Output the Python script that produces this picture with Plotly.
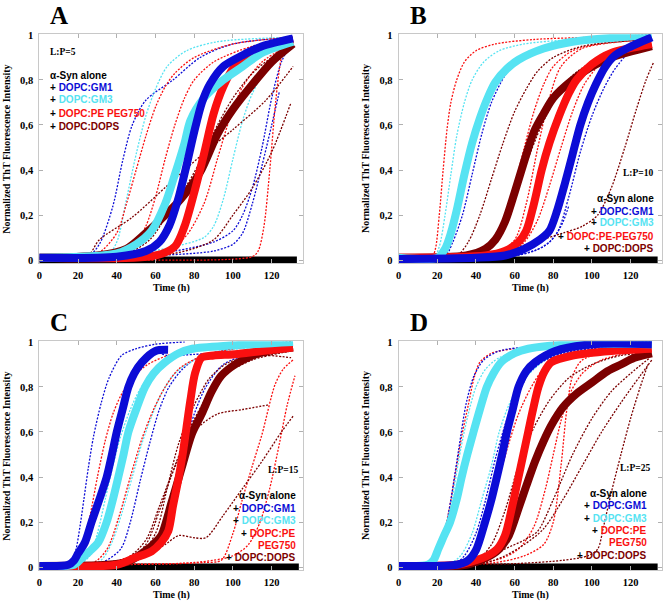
import plotly.graph_objects as go

# ---------------- colours ----------------
C_ALONE = "#000000"
C_GM1 = "#0c0cd6"
C_GM3 = "#56e3f2"
C_PEG = "#fa1010"
C_DOPS = "#7c0000"

# ================= Panel A (L:P=5) =================
A_ALONE_T = [0, 133]
A_ALONE_Y = [0, 0]
A_GM1_T = [0, 40, 55, 62, 67, 72, 76, 80, 84, 88, 95, 105, 115, 131]
A_GM1_Y = [0.01, 0.015, 0.04, 0.08, 0.15, 0.28, 0.42, 0.57, 0.7, 0.78, 0.86, 0.91, 0.95, 0.985]
A_GM3_T = [0, 40, 50, 58, 65, 70, 75, 78, 85, 95, 105, 115, 131]
A_GM3_Y = [0.01, 0.03, 0.07, 0.13, 0.25, 0.38, 0.52, 0.62, 0.72, 0.8, 0.86, 0.92, 0.97]
A_PEG_T = [0, 60, 70, 75, 80, 85, 90, 95, 100, 110, 131]
A_PEG_Y = [0.01, 0.02, 0.06, 0.15, 0.3, 0.47, 0.65, 0.77, 0.85, 0.92, 0.98]
A_DOPS_T = [0, 30, 45, 55, 65, 73, 83, 92, 100, 110, 120, 131]
A_DOPS_Y = [0.01, 0.02, 0.05, 0.12, 0.2, 0.27, 0.39, 0.56, 0.67, 0.78, 0.88, 0.96]

A_GM1_R1_T = [0, 25, 31, 38, 43, 48, 55, 69, 83, 100, 131]
A_GM1_R1_Y = [0.01, 0.015, 0.07, 0.24, 0.44, 0.6, 0.71, 0.8, 0.9, 0.96, 0.99]
A_GM1_R2_T = [0, 50, 70, 90, 100, 105, 110, 115, 120, 125, 130]
A_GM1_R2_Y = [0.01, 0.02, 0.04, 0.08, 0.13, 0.2, 0.32, 0.5, 0.72, 0.88, 0.96]
A_GM1_R3_T = [0, 60, 90, 100, 105, 110, 115, 120, 124]
A_GM1_R3_Y = [0.01, 0.02, 0.04, 0.07, 0.12, 0.25, 0.42, 0.6, 0.75]
A_GM3_R1_T = [0, 35, 40, 45, 50, 55, 60, 66, 76, 92, 130]
A_GM3_R1_Y = [0.01, 0.02, 0.08, 0.27, 0.47, 0.64, 0.76, 0.86, 0.93, 0.97, 0.99]
A_GM3_R2_T = [0, 50, 70, 85, 90, 95, 100, 105, 110, 118, 130]
A_GM3_R2_Y = [0.01, 0.03, 0.06, 0.1, 0.15, 0.27, 0.45, 0.62, 0.74, 0.86, 0.95]
A_PEG_R1_T = [0, 30, 40, 45, 50, 55, 60, 65, 70, 80, 100, 130]
A_PEG_R1_Y = [0.01, 0.03, 0.12, 0.25, 0.4, 0.55, 0.68, 0.77, 0.83, 0.9, 0.96, 0.99]
A_PEG_R2_T = [0, 40, 50, 55, 60, 65, 70, 75, 80, 90, 110, 130]
A_PEG_R2_Y = [0.01, 0.03, 0.08, 0.15, 0.28, 0.45, 0.6, 0.72, 0.8, 0.88, 0.95, 0.98]
A_PEG_R3_T = [0, 60, 75, 85, 92, 98, 105, 115, 130]
A_PEG_R3_Y = [0.01, 0.03, 0.1, 0.25, 0.45, 0.62, 0.77, 0.88, 0.96]
A_PEG_R4_T = [0, 110, 113, 116, 119, 122, 125, 128, 131]
A_PEG_R4_Y = [0.01, 0.015, 0.04, 0.15, 0.4, 0.7, 0.9, 0.97, 0.99]
A_DOPS_R1_T = [0, 25, 31, 48, 66, 83, 100, 117, 131]
A_DOPS_R1_Y = [0.01, 0.02, 0.09, 0.19, 0.33, 0.46, 0.58, 0.71, 0.86]
A_DOPS_R2_T = [0, 45, 57, 66, 76, 85, 92, 100, 110, 120, 130]
A_DOPS_R2_Y = [0.01, 0.03, 0.09, 0.2, 0.33, 0.47, 0.6, 0.72, 0.83, 0.9, 0.95]
A_DOPS_R3_T = [0, 70, 90, 100, 110, 120, 130]
A_DOPS_R3_Y = [0.01, 0.03, 0.09, 0.2, 0.32, 0.48, 0.7]

# ================= Panel B (L:P=10) =================
B_ALONE_T = [0, 134]
B_ALONE_Y = [0, 0]
B_GM3_T = [0, 20, 24, 27, 30, 34, 38, 42, 46, 50, 56, 62, 75, 90, 131]
B_GM3_Y = [0.01, 0.01, 0.05, 0.12, 0.22, 0.38, 0.52, 0.63, 0.72, 0.79, 0.85, 0.89, 0.94, 0.97, 1.0]
B_GM1_T = [0, 40, 55, 65, 73, 78, 82, 86, 90, 94, 98, 102, 107, 112, 118, 131]
B_GM1_Y = [0.005, 0.01, 0.02, 0.05, 0.09, 0.13, 0.22, 0.34, 0.47, 0.6, 0.7, 0.78, 0.86, 0.91, 0.94, 0.99]
B_PEG_T = [0, 45, 55, 62, 66, 70, 74, 78, 83, 88, 92, 100, 110, 131]
B_PEG_Y = [0.01, 0.02, 0.04, 0.08, 0.13, 0.25, 0.4, 0.52, 0.64, 0.74, 0.8, 0.87, 0.92, 0.96]
B_DOPS_T = [0, 35, 45, 50, 55, 60, 65, 70, 75, 80, 90, 100, 110, 131]
B_DOPS_Y = [0.01, 0.02, 0.05, 0.09, 0.17, 0.3, 0.44, 0.57, 0.65, 0.72, 0.8, 0.86, 0.9, 0.95]

B_PEG_R1_T = [0, 17, 19, 21, 23, 25, 27, 30, 34, 40, 50, 70, 100, 130]
B_PEG_R1_Y = [0.01, 0.01, 0.05, 0.2, 0.4, 0.58, 0.7, 0.8, 0.88, 0.93, 0.96, 0.98, 0.99, 1.0]
B_PEG_R2_T = [0, 40, 50, 55, 60, 65, 70, 75, 80, 90, 110, 130]
B_PEG_R2_Y = [0.01, 0.03, 0.08, 0.18, 0.33, 0.5, 0.66, 0.78, 0.86, 0.93, 0.97, 0.98]
B_PEG_R3_T = [0, 55, 65, 72, 78, 84, 90, 96, 105, 115, 130]
B_PEG_R3_Y = [0.01, 0.03, 0.08, 0.18, 0.33, 0.5, 0.66, 0.78, 0.88, 0.94, 0.97]
B_PEG_R4_T = [0, 50, 60, 66, 72, 78, 84, 95, 130]
B_PEG_R4_Y = [0.01, 0.03, 0.09, 0.25, 0.5, 0.72, 0.86, 0.94, 0.98]
B_GM3_R1_T = [0, 18, 21, 24, 27, 30, 34, 38, 44, 52, 65, 90, 130]
B_GM3_R1_Y = [0.01, 0.01, 0.06, 0.2, 0.38, 0.55, 0.7, 0.8, 0.88, 0.93, 0.96, 0.98, 1.0]
B_GM1_R1_T = [0, 24, 28, 33, 38, 43, 48, 55, 62, 75, 100, 130]
B_GM1_R1_Y = [0.01, 0.02, 0.08, 0.2, 0.38, 0.56, 0.7, 0.82, 0.89, 0.94, 0.98, 1.0]
B_GM1_R2_T = [0, 60, 70, 78, 84, 88]
B_GM1_R2_Y = [0.01, 0.02, 0.04, 0.08, 0.15, 0.24]
B_GM1_R3_T = [0, 60, 75, 82, 88, 94, 100, 106, 112, 120, 130]
B_GM1_R3_Y = [0.01, 0.02, 0.06, 0.12, 0.28, 0.48, 0.64, 0.76, 0.85, 0.93, 0.98]
B_DOPS_R1_T = [0, 30, 36, 42, 48, 54, 60, 66, 72, 80, 95, 130]
B_DOPS_R1_Y = [0.01, 0.02, 0.08, 0.2, 0.36, 0.52, 0.66, 0.76, 0.84, 0.9, 0.95, 0.98]
B_DOPS_R2_T = [0, 50, 70, 85, 95, 103, 110, 117, 123, 128, 132]
B_DOPS_R2_Y = [0.01, 0.03, 0.08, 0.12, 0.15, 0.2, 0.32, 0.5, 0.67, 0.8, 0.88]
B_DOPS_R3_T = [0, 40, 50, 58, 66, 74, 82, 90, 100, 115, 130]
B_DOPS_R3_Y = [0.01, 0.03, 0.1, 0.25, 0.43, 0.6, 0.73, 0.82, 0.88, 0.93, 0.96]

# ================= Panel C (L:P=15) =================
C_ALONE_T = [0, 134]
C_ALONE_Y = [0, 0]
C_GM1_T = [0, 15, 18, 20, 23.6, 27, 31, 34.8, 37.5, 40, 43, 46, 49, 53, 60, 66.5]
C_GM1_Y = [0.005, 0.01, 0.03, 0.06, 0.11, 0.2, 0.3, 0.4, 0.5, 0.6, 0.7, 0.8, 0.86, 0.91, 0.96, 0.965]
C_GM3_T = [0, 18, 22, 26, 30.5, 34.8, 38, 40.8, 43.5, 46, 50, 54.6, 59, 65, 72, 79, 100, 131]
C_GM3_Y = [0.005, 0.01, 0.04, 0.07, 0.11, 0.2, 0.3, 0.4, 0.5, 0.6, 0.7, 0.8, 0.86, 0.91, 0.95, 0.97, 0.985, 1.0]
C_PEG_T = [0, 40, 49, 58, 63, 66.6, 69, 71.8, 74, 76, 78, 80.4, 83.8, 90, 101, 115, 131]
C_PEG_Y = [0.005, 0.01, 0.04, 0.07, 0.11, 0.16, 0.27, 0.39, 0.5, 0.62, 0.74, 0.86, 0.93, 0.94, 0.945, 0.96, 0.975]
C_DOPS_T = [0, 35, 46, 54.6, 60, 63, 68.4, 73.5, 78.7, 83.8, 89, 94, 101, 110, 118, 131]
C_DOPS_Y = [0.005, 0.01, 0.025, 0.07, 0.11, 0.14, 0.29, 0.44, 0.59, 0.68, 0.78, 0.85, 0.9, 0.94, 0.96, 0.975]

C_GM1_R1_T = [0, 15, 17, 19, 21, 23, 25.3, 28, 32, 36, 42.5, 50, 60, 75]
C_GM1_R1_Y = [0.005, 0.01, 0.03, 0.08, 0.18, 0.3, 0.44, 0.58, 0.73, 0.84, 0.94, 0.97, 0.99, 1.0]
C_GM1_R2_T = [60, 66, 80, 100, 115, 131]
C_GM1_R2_Y = [0.96, 0.94, 0.945, 0.955, 0.96, 0.97]
C_GM1_R3_T = [0, 32, 42, 47, 52, 57, 62, 67, 74, 82, 100, 130]
C_GM1_R3_Y = [0.005, 0.02, 0.08, 0.2, 0.38, 0.55, 0.7, 0.8, 0.88, 0.93, 0.97, 0.99]
C_GM1_R4_T = [0, 40, 55, 62, 68, 74, 80, 86, 95, 110, 130]
C_GM1_R4_Y = [0.005, 0.02, 0.06, 0.15, 0.3, 0.5, 0.68, 0.8, 0.9, 0.95, 0.97]
C_GM3_R1_T = [0, 20, 26, 30, 34, 38, 42, 47, 52, 58, 66, 76, 100, 130]
C_GM3_R1_Y = [0.005, 0.01, 0.05, 0.15, 0.3, 0.45, 0.58, 0.7, 0.79, 0.86, 0.91, 0.95, 0.98, 1.0]
C_GM3_R2_T = [0, 28, 33, 38, 43, 48, 53, 58, 63, 70, 80, 95, 130]
C_GM3_R2_Y = [0.005, 0.01, 0.04, 0.12, 0.25, 0.4, 0.55, 0.67, 0.77, 0.86, 0.92, 0.96, 0.99]
C_PEG_R1_T = [0, 18, 22, 26, 30, 34, 38, 42, 48, 56, 70, 100, 130]
C_PEG_R1_Y = [0.01, 0.02, 0.08, 0.22, 0.4, 0.56, 0.68, 0.76, 0.84, 0.9, 0.95, 0.98, 1.0]
C_PEG_R2_T = [0, 28, 35, 41, 47, 53, 59, 65, 72, 82, 100, 130]
C_PEG_R2_Y = [0.01, 0.02, 0.08, 0.22, 0.4, 0.57, 0.7, 0.8, 0.88, 0.93, 0.97, 0.99]
C_PEG_R3_T = [0, 70, 85, 94, 100, 104.5, 110, 115, 121.7, 126, 131]
C_PEG_R3_Y = [0.01, 0.015, 0.02, 0.03, 0.15, 0.29, 0.45, 0.59, 0.81, 0.88, 0.92]
C_PEG_R4_T = [0, 80, 100, 108, 114, 119, 124, 128, 132]
C_PEG_R4_Y = [0.01, 0.02, 0.05, 0.1, 0.2, 0.35, 0.55, 0.72, 0.85]
C_DOPS_R1_T = [0, 50, 65, 72, 80, 86, 95, 105, 115, 125, 131]
C_DOPS_R1_Y = [0.01, 0.03, 0.1, 0.14, 0.13, 0.13, 0.23, 0.35, 0.47, 0.6, 0.67]
C_DOPS_R2_T = [0, 45, 55, 62, 68, 74, 82, 92, 105, 118]
C_DOPS_R2_Y = [0.01, 0.03, 0.1, 0.25, 0.4, 0.52, 0.62, 0.68, 0.7, 0.72]
C_DOPS_R3_T = [0, 50, 60, 66, 72, 80, 88, 98, 115, 130]
C_DOPS_R3_Y = [0.01, 0.04, 0.15, 0.35, 0.55, 0.72, 0.84, 0.91, 0.94, 0.93]
C_DOPS_R4_T = [0, 45, 55, 62, 70, 78, 86, 95, 110, 130]
C_DOPS_R4_Y = [0.01, 0.04, 0.12, 0.27, 0.45, 0.62, 0.75, 0.85, 0.92, 0.96]

# ================= Panel D (L:P=25) =================
D_ALONE_T = [0, 134]
D_ALONE_Y = [0, 0]
D_GM3_T = [0, 15, 18, 20.5, 23, 26.6, 30, 32.6, 35.5, 38.7, 42, 45.6, 49, 53, 60, 67, 90, 131]
D_GM3_Y = [0.005, 0.01, 0.03, 0.08, 0.13, 0.2, 0.3, 0.4, 0.5, 0.6, 0.7, 0.8, 0.86, 0.91, 0.95, 0.97, 0.99, 0.99]
D_GM1_T = [0, 30, 36, 40, 44.7, 48, 50.8, 53.5, 56, 59, 62, 66, 70.6, 81, 100, 131]
D_GM1_Y = [0.005, 0.01, 0.03, 0.075, 0.2, 0.3, 0.4, 0.5, 0.6, 0.7, 0.8, 0.87, 0.91, 0.96, 0.99, 0.99]
D_PEG_T = [0, 30, 40, 46, 51, 55, 58.5, 62, 64.5, 67, 69.5, 72.3, 75.5, 79, 90, 110, 131]
D_PEG_Y = [0.005, 0.01, 0.03, 0.05, 0.08, 0.14, 0.26, 0.4, 0.5, 0.6, 0.7, 0.8, 0.87, 0.91, 0.94, 0.96, 0.97]
D_DOPS_T = [0, 35, 45, 52, 57, 62, 66, 70.6, 75, 79, 85, 92, 100, 108, 115, 122, 131]
D_DOPS_Y = [0.005, 0.01, 0.04, 0.08, 0.14, 0.26, 0.36, 0.47, 0.56, 0.63, 0.71, 0.77, 0.82, 0.87, 0.9, 0.93, 0.95]

D_PEG_R1_T = [0, 15, 18, 22, 26, 29, 32.6, 36, 39, 42, 48, 60, 90, 130]
D_PEG_R1_Y = [0.01, 0.015, 0.03, 0.1, 0.25, 0.4, 0.58, 0.72, 0.84, 0.91, 0.95, 0.97, 0.99, 1.0]
D_PEG_R2_T = [0, 32, 40, 46, 52, 57, 62, 68, 74, 82, 100, 130]
D_PEG_R2_Y = [0.01, 0.02, 0.08, 0.22, 0.4, 0.55, 0.68, 0.79, 0.87, 0.92, 0.96, 0.98]
D_PEG_R3_T = [0, 50, 62, 70, 76, 80, 84, 88, 95, 105, 130]
D_PEG_R3_Y = [0.01, 0.03, 0.08, 0.18, 0.35, 0.5, 0.65, 0.76, 0.86, 0.92, 0.97]
D_PEG_R4_T = [0, 50, 65, 75, 80, 84, 87, 90, 95, 110, 130]
D_PEG_R4_Y = [0.01, 0.02, 0.05, 0.1, 0.2, 0.45, 0.7, 0.85, 0.92, 0.96, 0.98]
D_GM3_R1_T = [0, 16, 20, 24, 28, 32, 36, 40, 45, 52, 65, 90, 130]
D_GM3_R1_Y = [0.005, 0.01, 0.05, 0.15, 0.32, 0.52, 0.68, 0.8, 0.88, 0.93, 0.96, 0.98, 0.99]
D_GM3_R2_T = [0, 25, 32, 38, 43, 48, 52, 57, 62, 70, 80, 100, 130]
D_GM3_R2_Y = [0.005, 0.01, 0.05, 0.15, 0.3, 0.45, 0.6, 0.72, 0.8, 0.88, 0.94, 0.98, 1.0]
D_GM1_R1_T = [0, 15, 19, 23, 27, 31, 35, 39, 44, 52, 70, 100, 130]
D_GM1_R1_Y = [0.005, 0.01, 0.04, 0.12, 0.3, 0.52, 0.73, 0.85, 0.92, 0.96, 0.98, 0.99, 1.0]
D_GM1_R2_T = [0, 28, 34, 40, 45, 50, 55, 60, 66, 74, 85, 110, 130]
D_GM1_R2_Y = [0.005, 0.01, 0.05, 0.15, 0.3, 0.48, 0.63, 0.75, 0.85, 0.91, 0.95, 0.98, 0.99]
D_GM1_R3_T = [0, 30, 38, 44, 50, 56, 62, 68, 75, 90, 130]
D_GM1_R3_Y = [0.005, 0.01, 0.06, 0.2, 0.42, 0.62, 0.77, 0.87, 0.92, 0.96, 0.99]
D_DOPS_R1_T = [0, 60, 85, 98, 103, 106, 110, 115, 120, 125, 129]
D_DOPS_R1_Y = [0.01, 0.015, 0.03, 0.05, 0.08, 0.18, 0.33, 0.5, 0.66, 0.8, 0.9]
D_DOPS_R2_T = [0, 45, 55, 65, 75, 85, 95, 105, 115, 125, 131]
D_DOPS_R2_Y = [0.01, 0.02, 0.05, 0.1, 0.17, 0.3, 0.45, 0.6, 0.73, 0.85, 0.92]
D_DOPS_R3_T = [0, 45, 55, 65, 72, 80, 90, 100, 110, 120, 130]
D_DOPS_R3_Y = [0.01, 0.03, 0.08, 0.12, 0.16, 0.3, 0.5, 0.66, 0.78, 0.86, 0.93]
D_DOPS_R4_T = [0, 40, 48, 55, 62, 70, 78, 88, 100, 115, 130]
D_DOPS_R4_Y = [0.01, 0.03, 0.1, 0.25, 0.45, 0.62, 0.74, 0.84, 0.9, 0.94, 0.95]

X_TICKS = [0, 20, 40, 60, 80, 100, 120]
Y_TICKS = [0, 0.2, 0.4, 0.6, 0.8, 1]
Y_TICK_TEXT = ["0", "0,2", "0,4", "0,6", "0,8", "1"]
PANEL_LETTERS = ["A", "B", "C", "D"]
PANEL_RATIOS = ["L:P=5", "L:P=10", "L:P=15", "L:P=25"]

# ---------------- assemble ----------------
PANELS = [
    {
        "thick": [(C_DOPS, A_DOPS_T, A_DOPS_Y), (C_PEG, A_PEG_T, A_PEG_Y),
                  (C_GM3, A_GM3_T, A_GM3_Y), (C_GM1, A_GM1_T, A_GM1_Y)],
        "thin": [(C_GM1, A_GM1_R1_T, A_GM1_R1_Y), (C_GM1, A_GM1_R2_T, A_GM1_R2_Y),
                 (C_GM1, A_GM1_R3_T, A_GM1_R3_Y), (C_GM3, A_GM3_R1_T, A_GM3_R1_Y),
                 (C_GM3, A_GM3_R2_T, A_GM3_R2_Y), (C_PEG, A_PEG_R1_T, A_PEG_R1_Y),
                 (C_PEG, A_PEG_R2_T, A_PEG_R2_Y), (C_PEG, A_PEG_R3_T, A_PEG_R3_Y),
                 (C_PEG, A_PEG_R4_T, A_PEG_R4_Y), (C_DOPS, A_DOPS_R1_T, A_DOPS_R1_Y),
                 (C_DOPS, A_DOPS_R2_T, A_DOPS_R2_Y), (C_DOPS, A_DOPS_R3_T, A_DOPS_R3_Y)],
        "alone": (A_ALONE_T, A_ALONE_Y),
    },
    {
        "thick": [(C_DOPS, B_DOPS_T, B_DOPS_Y), (C_PEG, B_PEG_T, B_PEG_Y),
                  (C_GM3, B_GM3_T, B_GM3_Y), (C_GM1, B_GM1_T, B_GM1_Y)],
        "thin": [(C_PEG, B_PEG_R1_T, B_PEG_R1_Y), (C_PEG, B_PEG_R2_T, B_PEG_R2_Y),
                 (C_PEG, B_PEG_R3_T, B_PEG_R3_Y), (C_PEG, B_PEG_R4_T, B_PEG_R4_Y),
                 (C_GM3, B_GM3_R1_T, B_GM3_R1_Y), (C_GM1, B_GM1_R1_T, B_GM1_R1_Y),
                 (C_GM1, B_GM1_R2_T, B_GM1_R2_Y), (C_GM1, B_GM1_R3_T, B_GM1_R3_Y),
                 (C_DOPS, B_DOPS_R1_T, B_DOPS_R1_Y), (C_DOPS, B_DOPS_R2_T, B_DOPS_R2_Y),
                 (C_DOPS, B_DOPS_R3_T, B_DOPS_R3_Y)],
        "alone": (B_ALONE_T, B_ALONE_Y),
    },
    {
        "thick": [(C_DOPS, C_DOPS_T, C_DOPS_Y), (C_PEG, C_PEG_T, C_PEG_Y),
                  (C_GM3, C_GM3_T, C_GM3_Y), (C_GM1, C_GM1_T, C_GM1_Y)],
        "thin": [(C_GM1, C_GM1_R1_T, C_GM1_R1_Y), (C_GM1, C_GM1_R2_T, C_GM1_R2_Y),
                 (C_GM1, C_GM1_R3_T, C_GM1_R3_Y), (C_GM1, C_GM1_R4_T, C_GM1_R4_Y),
                 (C_GM3, C_GM3_R1_T, C_GM3_R1_Y), (C_GM3, C_GM3_R2_T, C_GM3_R2_Y),
                 (C_PEG, C_PEG_R1_T, C_PEG_R1_Y), (C_PEG, C_PEG_R2_T, C_PEG_R2_Y),
                 (C_PEG, C_PEG_R3_T, C_PEG_R3_Y), (C_PEG, C_PEG_R4_T, C_PEG_R4_Y),
                 (C_DOPS, C_DOPS_R1_T, C_DOPS_R1_Y), (C_DOPS, C_DOPS_R2_T, C_DOPS_R2_Y),
                 (C_DOPS, C_DOPS_R3_T, C_DOPS_R3_Y), (C_DOPS, C_DOPS_R4_T, C_DOPS_R4_Y)],
        "alone": (C_ALONE_T, C_ALONE_Y),
    },
    {
        "thick": [(C_DOPS, D_DOPS_T, D_DOPS_Y), (C_PEG, D_PEG_T, D_PEG_Y),
                  (C_GM3, D_GM3_T, D_GM3_Y), (C_GM1, D_GM1_T, D_GM1_Y)],
        "thin": [(C_PEG, D_PEG_R1_T, D_PEG_R1_Y), (C_PEG, D_PEG_R2_T, D_PEG_R2_Y),
                 (C_PEG, D_PEG_R3_T, D_PEG_R3_Y), (C_PEG, D_PEG_R4_T, D_PEG_R4_Y),
                 (C_GM3, D_GM3_R1_T, D_GM3_R1_Y), (C_GM3, D_GM3_R2_T, D_GM3_R2_Y),
                 (C_GM1, D_GM1_R1_T, D_GM1_R1_Y), (C_GM1, D_GM1_R2_T, D_GM1_R2_Y),
                 (C_GM1, D_GM1_R3_T, D_GM1_R3_Y), (C_DOPS, D_DOPS_R1_T, D_DOPS_R1_Y),
                 (C_DOPS, D_DOPS_R2_T, D_DOPS_R2_Y), (C_DOPS, D_DOPS_R3_T, D_DOPS_R3_Y),
                 (C_DOPS, D_DOPS_R4_T, D_DOPS_R4_Y)],
        "alone": (D_ALONE_T, D_ALONE_Y),
    },
]

W, H = 664, 604
def px(x):
    return x / W
def py(y):
    return 1 - y / H

# plot boxes in pixels: (left, right, top, bottom)
BOXES = [(39.3, 302.7, 34.3, 263.4), (398.7, 661.5, 34.3, 263.4),
         (39.3, 302.7, 341.3, 570.4), (398.7, 661.5, 341.3, 570.4)]

SERIF = "Liberation Serif"
SANS = "Liberation Sans"

fig = go.Figure()
layout = {}
annotations = []

for i, (panel, box) in enumerate(zip(PANELS, BOXES)):
    n = "" if i == 0 else str(i + 1)
    xa, ya = "x" + n, "y" + n
    l, r, t, b = box
    layout["xaxis" + n] = dict(
        domain=[px(l), px(r)], range=[0, 136], anchor=ya, automargin=False,
        tickvals=X_TICKS, ticks="inside", ticklen=4, tickcolor="#b0b0b0",
        showline=True, linecolor="#c8c8c8", linewidth=1, mirror="ticks",
        showgrid=False, zeroline=False, ticklabelstandoff=2,
        tickfont=dict(family=SERIF, size=10.5, color="black", weight="bold"),
    )
    layout["yaxis" + n] = dict(
        domain=[py(b), py(t)], range=[-0.015, 1.003], anchor=xa, automargin=False,
        tickvals=Y_TICKS, ticktext=Y_TICK_TEXT, ticks="inside", ticklen=4,
        tickcolor="#b0b0b0", showline=True, linecolor="#c8c8c8", linewidth=1,
        mirror="ticks", showgrid=False, zeroline=False, ticklabelstandoff=3,
        tickfont=dict(family=SERIF, size=10.5, color="black", weight="bold"),
    )
    at, ay = panel["alone"]
    fig.add_trace(go.Scatter(x=at, y=ay, mode="lines", xaxis=xa, yaxis=ya,
                             line=dict(color=C_ALONE, width=7), showlegend=False,
                             hoverinfo="skip"))
    for col, tt, yy in panel["thin"]:
        fig.add_trace(go.Scatter(x=tt, y=yy, mode="lines", xaxis=xa, yaxis=ya,
                                 line=dict(color=col, width=1.3, shape="spline",
                                           smoothing=0.8, dash="2px,1.5px"),
                                 showlegend=False, hoverinfo="skip"))
    for col, tt, yy in panel["thick"]:
        fig.add_trace(go.Scatter(x=tt, y=yy, mode="lines", xaxis=xa, yaxis=ya,
                                 line=dict(color=col, width=8, shape="spline",
                                           smoothing=0.8),
                                 showlegend=False, hoverinfo="skip"))

    # panel letter (box top sits 34 px above the plot frame)
    annotations.append(dict(text="<b>%s</b>" % PANEL_LETTERS[i], xref="paper", yref="paper",
                            x=px(l + 20), y=py(t - 34.3),
                            xanchor="center", yanchor="top", showarrow=False,
                            font=dict(family=SERIF, size=25, color="black")))
    # x title
    annotations.append(dict(text="<b>Time (h)</b>", xref="paper", yref="paper",
                            x=px((l + r) / 2), y=py(b + 25), xanchor="center",
                            yanchor="middle", showarrow=False,
                            font=dict(family=SERIF, size=10, color="black")))
    # y title
    annotations.append(dict(text="<b>Normalized ThT Fluorescence Intensity</b>",
                            xref="paper", yref="paper", x=px(l - 32.5),
                            y=py((t + b) / 2), xanchor="center", yanchor="middle",
                            textangle=-90, showarrow=False,
                            font=dict(family=SERIF, size=10, color="black")))

def legline(html, x, y, anchor):
    annotations.append(dict(text="<b>%s</b>" % html, xref="paper", yref="paper",
                            x=px(x), y=py(y), xanchor=anchor, yanchor="middle",
                            showarrow=False, font=dict(family=SANS, size=10, color="black")))

def ratio(text, x, y, anchor):
    annotations.append(dict(text="<b>%s</b>" % text, xref="paper", yref="paper",
                            x=px(x), y=py(y), xanchor=anchor, yanchor="middle",
                            showarrow=False, font=dict(family=SERIF, size=9.5, color="black")))

def sp(col, s):
    return "<span style='color:%s'>%s</span>" % (col, s)

# Panel A legend (left)
ratio(PANEL_RATIOS[0], 48, 52, "left")
for txt, yy in [("α-Syn alone", 76), ("+ " + sp(C_GM1, "DOPC:GM1"), 88),
                ("+ " + sp(C_GM3, "DOPC:GM3"), 100), ("+ " + sp(C_PEG, "DOPC:PE PEG750"), 113),
                ("+ " + sp(C_DOPS, "DOPC:DOPS"), 126)]:
    legline(txt, 48, yy, "left")

# Panel B legend (right)
ratio(PANEL_RATIOS[1], 655, 173, "right")
for txt, yy in [("α-Syn alone", 199), ("+ " + sp(C_GM1, "DOPC:GM1"), 211),
                ("+ " + sp(C_GM3, "DOPC:GM3"), 223), ("+ " + sp(C_PEG, "DOPC:PE-PEG750"), 236),
                ("+ " + sp(C_DOPS, "DOPC:DOPS"), 248)]:
    legline(txt, 656, yy, "right")

# Panel C legend
ratio(PANEL_RATIOS[2], 300, 470, "right")
for txt, yy in [("α-Syn alone", 495), ("+ " + sp(C_GM1, "DOPC:GM1"), 508),
                ("+ " + sp(C_GM3, "DOPC:GM3"), 520), ("+ " + sp(C_PEG, "DOPC:PE"), 533),
                (sp(C_PEG, "PEG750"), 545), ("+ " + sp(C_DOPS, "DOPC:DOPS"), 557)]:
    legline(txt, 298, yy, "right")

# Panel D legend
ratio(PANEL_RATIOS[3], 652, 468, "right")
for txt, yy in [("α-Syn alone", 493), ("+ " + sp(C_GM1, "DOPC:GM1"), 505),
                ("+ " + sp(C_GM3, "DOPC:GM3"), 518), ("+ " + sp(C_PEG, "DOPC:PE"), 530),
                (sp(C_PEG, "PEG750"), 542), ("+ " + sp(C_DOPS, "DOPC:DOPS"), 555)]:
    legline(txt, 649, yy, "right")

fig.update_layout(width=W, height=H, margin=dict(l=0, r=0, t=0, b=0),
                  paper_bgcolor="white", plot_bgcolor="white",
                  showlegend=False, annotations=annotations, **layout)

fig.write_html("out.html", config={"displayModeBar": False},
               post_script="document.body.style.margin='0px';"
                           "document.body.style.overflow='hidden';")
